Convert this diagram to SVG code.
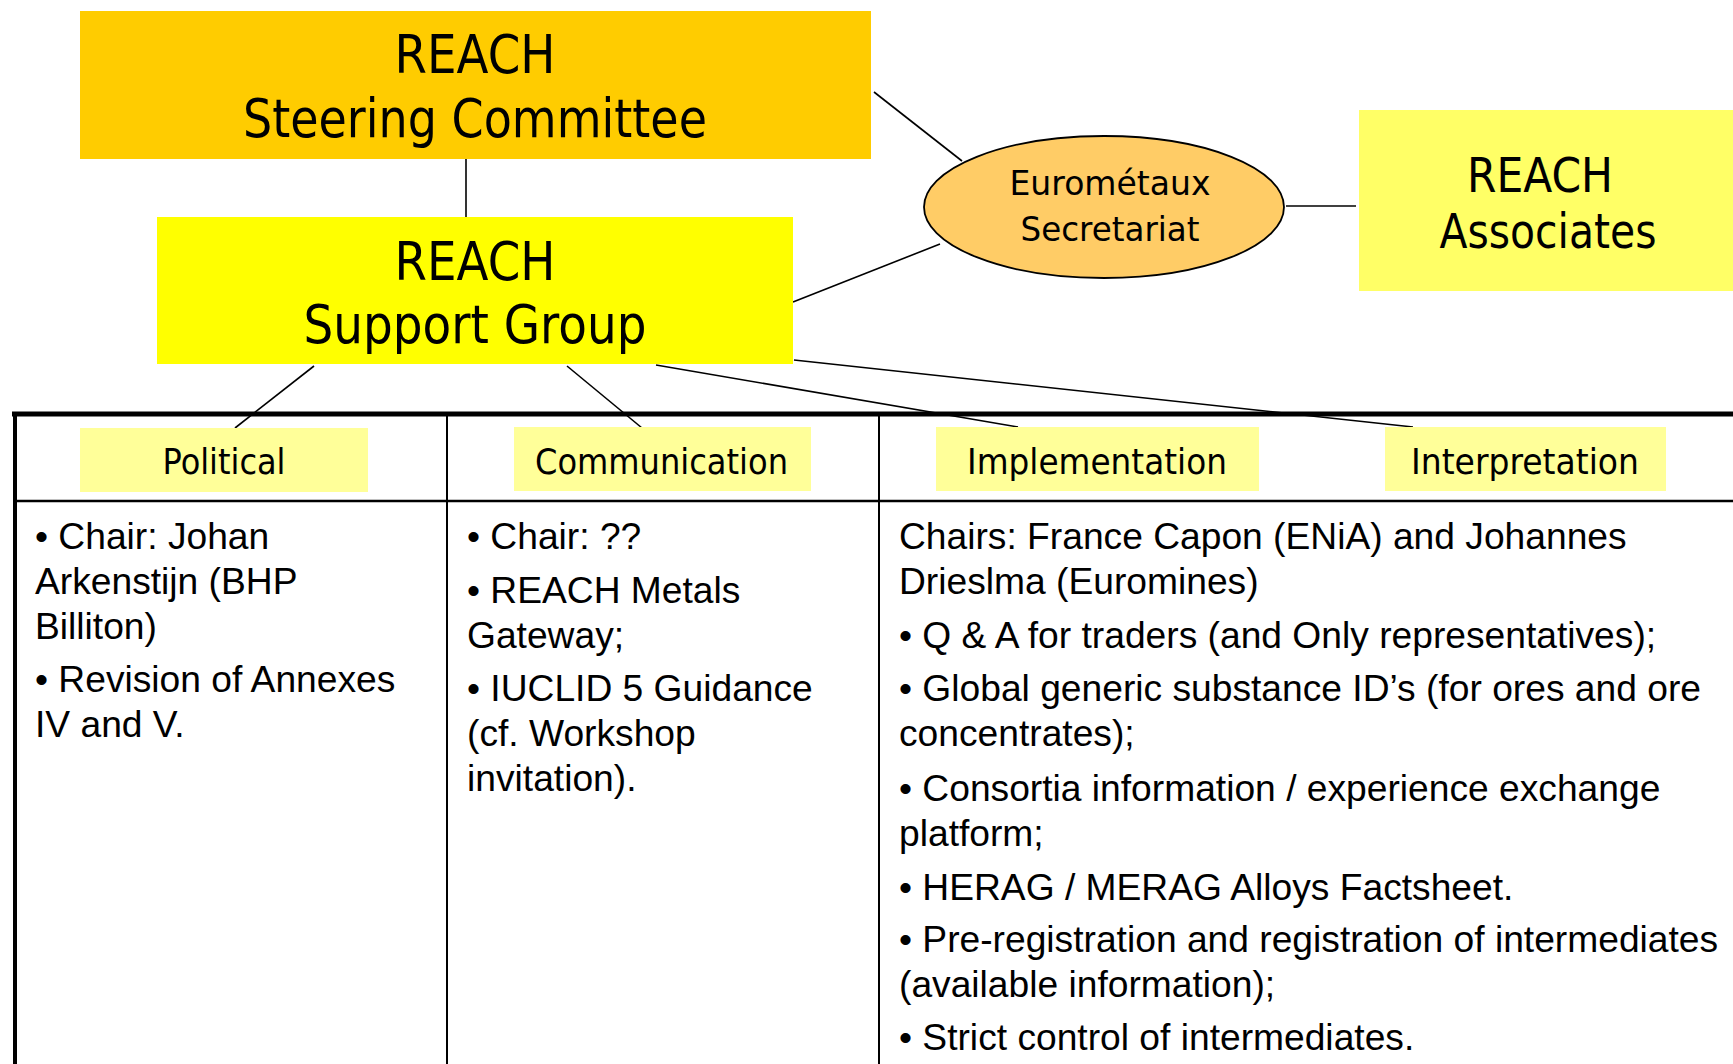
<svg xmlns="http://www.w3.org/2000/svg" width="1733" height="1064" viewBox="0 0 1733 1064">
<style>
.t{font-family:"DejaVu Sans","Liberation Sans",sans-serif;fill:#000;text-anchor:middle}
.b{font-family:"Liberation Sans",Arial,sans-serif;font-size:37.2px;fill:#000}
.c{stroke:#000;stroke-width:1.6;fill:none}
.g{stroke:#000;fill:none}
</style>
<rect width="1733" height="1064" fill="#fff"/>
<g id="connectors">
<line class="c" x1="466" y1="158" x2="466" y2="217"/>
<line class="c" x1="874" y1="92" x2="962" y2="161"/>
<line class="c" x1="793" y1="302" x2="940" y2="244"/>
<line class="c" x1="1286" y1="206" x2="1356" y2="206"/>
<line class="c" x1="314" y1="366" x2="235" y2="428"/>
<line class="c" x1="567" y1="366" x2="642" y2="428"/>
<line class="c" x1="656" y1="365" x2="1018" y2="427"/>
<line class="c" x1="794" y1="360" x2="1413" y2="427"/>
</g>
<g id="table">
<line class="g" stroke-width="5" x1="12" y1="414" x2="1733" y2="414"/>
<line class="g" stroke-width="4" x1="15" y1="412" x2="15" y2="1064"/>
<line class="g" stroke-width="2" x1="447" y1="414" x2="447" y2="1064"/>
<line class="g" stroke-width="2" x1="879" y1="414" x2="879" y2="1064"/>
<line class="g" stroke-width="2.5" x1="15" y1="501" x2="1733" y2="501"/>
</g>
<g id="steering">
<rect x="80" y="11" width="791" height="148" fill="#FFCC00"/>
<text class="t" x="475" y="73" font-size="53" textLength="161" lengthAdjust="spacingAndGlyphs">REACH</text>
<text class="t" x="475" y="137" font-size="53" textLength="464" lengthAdjust="spacingAndGlyphs">Steering Committee</text>
</g>
<g id="support">
<rect x="157" y="217" width="636" height="147" fill="#FFFF00"/>
<text class="t" x="475" y="280" font-size="53" textLength="161" lengthAdjust="spacingAndGlyphs">REACH</text>
<text class="t" x="475" y="343" font-size="53" textLength="343" lengthAdjust="spacingAndGlyphs">Support Group</text>
</g>
<g id="secretariat">
<ellipse cx="1104" cy="207" rx="180" ry="71" fill="#FFCC66" stroke="#000" stroke-width="1.8"/>
<text class="t" x="1110" y="195" font-size="34" textLength="201" lengthAdjust="spacingAndGlyphs">Eurométaux</text>
<text class="t" x="1110" y="241" font-size="34" textLength="179" lengthAdjust="spacingAndGlyphs">Secretariat</text>
</g>
<g id="associates">
<rect x="1359" y="110" width="380" height="181" fill="#FFFF66"/>
<text class="t" x="1540" y="192" font-size="48" textLength="146" lengthAdjust="spacingAndGlyphs">REACH</text>
<text class="t" x="1548" y="248" font-size="48" textLength="217" lengthAdjust="spacingAndGlyphs">Associates</text>
</g>
<g id="political">
<rect x="80" y="428" width="288" height="64" fill="#FFFF99"/>
<text class="t" x="224" y="474" font-size="35.5" textLength="123" lengthAdjust="spacingAndGlyphs">Political</text>
</g>
<g id="communication">
<rect x="514" y="427" width="297" height="64" fill="#FFFF99"/>
<text class="t" x="661.5" y="474" font-size="35.5" textLength="253" lengthAdjust="spacingAndGlyphs">Communication</text>
</g>
<g id="implementation">
<rect x="936" y="427" width="323" height="64" fill="#FFFF99"/>
<text class="t" x="1097" y="474" font-size="35.5" textLength="260" lengthAdjust="spacingAndGlyphs">Implementation</text>
</g>
<g id="interpretation">
<rect x="1385" y="427" width="281" height="64" fill="#FFFF99"/>
<text class="t" x="1525" y="474" font-size="35.5" textLength="228" lengthAdjust="spacingAndGlyphs">Interpretation</text>
</g>
<g id="political-text">
<text class="b" x="35" y="549">• Chair: Johan</text>
<text class="b" x="35" y="594">Arkenstijn (BHP</text>
<text class="b" x="35" y="639">Billiton)</text>
<text class="b" x="35" y="692">• Revision of Annexes</text>
<text class="b" x="35" y="737">IV and V.</text>
</g>
<g id="communication-text">
<text class="b" x="467" y="549">• Chair: ??</text>
<text class="b" x="467" y="603">• REACH Metals</text>
<text class="b" x="467" y="648">Gateway;</text>
<text class="b" x="467" y="701">• IUCLID 5 Guidance</text>
<text class="b" x="467" y="746">(cf. Workshop</text>
<text class="b" x="467" y="791">invitation).</text>
</g>
<g id="implementation-text">
<text class="b" x="899" y="549">Chairs: France Capon (ENiA) and Johannes</text>
<text class="b" x="899" y="594">Drieslma (Euromines)</text>
<text class="b" x="899" y="648">• Q &amp; A for traders (and Only representatives);</text>
<text class="b" x="899" y="701">• Global generic substance ID’s (for ores and ore</text>
<text class="b" x="899" y="746">concentrates);</text>
<text class="b" x="899" y="801">• Consortia information / experience exchange</text>
<text class="b" x="899" y="846">platform;</text>
<text class="b" x="899" y="900">• HERAG / MERAG Alloys Factsheet.</text>
<text class="b" x="899" y="952">• Pre-registration and registration of intermediates</text>
<text class="b" x="899" y="997">(available information);</text>
<text class="b" x="899" y="1050">• Strict control of intermediates.</text>
</g>
</svg>
